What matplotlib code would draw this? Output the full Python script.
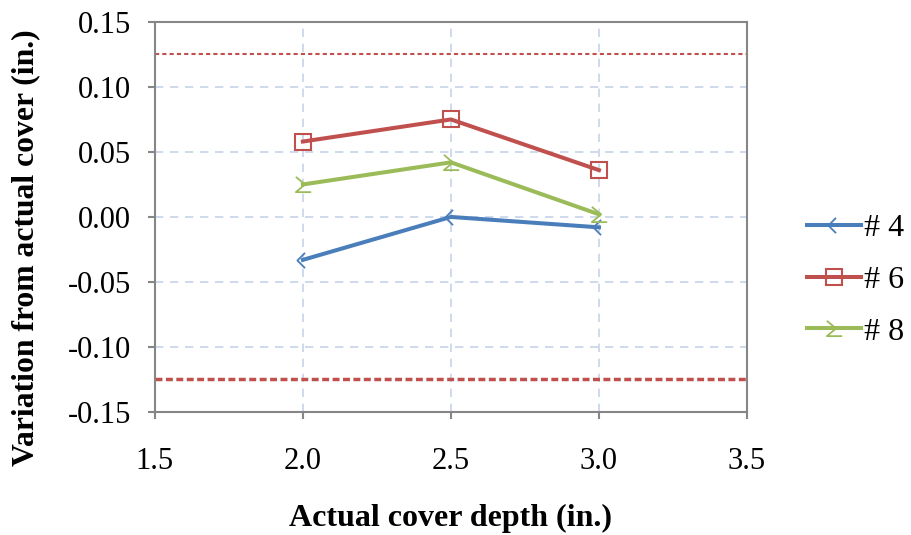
import numpy as np
import matplotlib.pyplot as plt
from matplotlib.path import Path

plt.rcParams['font.family'] = ['Liberation Serif', 'DejaVu Serif']

depth = [2.0, 2.5, 3.0]
bar4 = [-0.033, 0.0, -0.008]
bar6 = [0.058, 0.075, 0.036]
bar8 = [0.025, 0.042, 0.002]
labels = ['# 4', '# 6', '# 8']
limit = 0.125

# chevron-like markers as in the original
m4 = Path([(0.2, 1), (-0.8, 0), (0.2, -1), (-0.8, 0)], [1, 2, 2, 1])
m8 = Path([(-1, 1), (0.2, 0), (-1, -1), (1, -1)], [1, 2, 2, 2])

fig = plt.figure(figsize=(9.11, 5.35), dpi=100)
ax = fig.add_axes([0.170, 0.230, 0.650, 0.729])

ax.axhline(limit, color='#c0504d', lw=1.5, ls=(0, (2, 1.5)), zorder=1)
ax.axhline(-limit, color='#c0504d', lw=2.5, ls=(0, (2, 1)), zorder=1)

ax.plot(depth, bar4, color='#4a7ebb', lw=2.9, marker=m4, ms=11, mfc='none',
        mec='#4a7ebb', mew=1.3, label=labels[0])
ax.plot(depth, bar6, color='#c0504d', lw=2.9, marker='s', ms=11, mfc='none',
        mec='#c0504d', mew=1.5, label=labels[1])
ax.plot(depth, bar8, color='#9bbb59', lw=2.9, marker=m8, ms=11, mfc='none',
        mec='#9bbb59', mew=1.3, label=labels[2])

ax.set_xlim(1.5, 3.5)
ax.set_ylim(-0.15, 0.15)
ax.set_xticks(np.arange(1.5, 3.51, 0.5))
ax.set_yticks(np.arange(-0.15, 0.151, 0.05))
ax.set_xticklabels(['%.1f' % v for v in np.arange(1.5, 3.51, 0.5)])
ax.set_yticklabels(['%.2f' % v if abs(v) > 1e-9 else '0.00' for v in np.arange(-0.15, 0.151, 0.05)])
ax.grid(True, color='#c6d4ea', ls=(0, (5, 4)), lw=1.2)
ax.set_axisbelow(True)
for s in ax.spines.values():
    s.set_color('#868686')
    s.set_linewidth(1.5)
ax.tick_params(axis='both', colors='#868686', labelcolor='black', labelsize=22,
               length=5, width=1.5)
ax.tick_params(axis='x', pad=20)
ax.tick_params(axis='y', pad=12)

ax.set_xlabel('Actual cover depth (in.)', fontsize=23, fontweight='bold', labelpad=20)
ax.set_ylabel('Variation from actual cover (in.)', fontsize=22.8, fontweight='bold')
ax.yaxis.set_label_coords(-0.194, 0.42)

ax.legend(loc='center left', bbox_to_anchor=(1.101, 0.338), frameon=False, fontsize=23,
          handlelength=1.7, handletextpad=0.1, labelspacing=0.7,
          borderpad=0, borderaxespad=0)

fig.savefig('out.png', dpi=100)
